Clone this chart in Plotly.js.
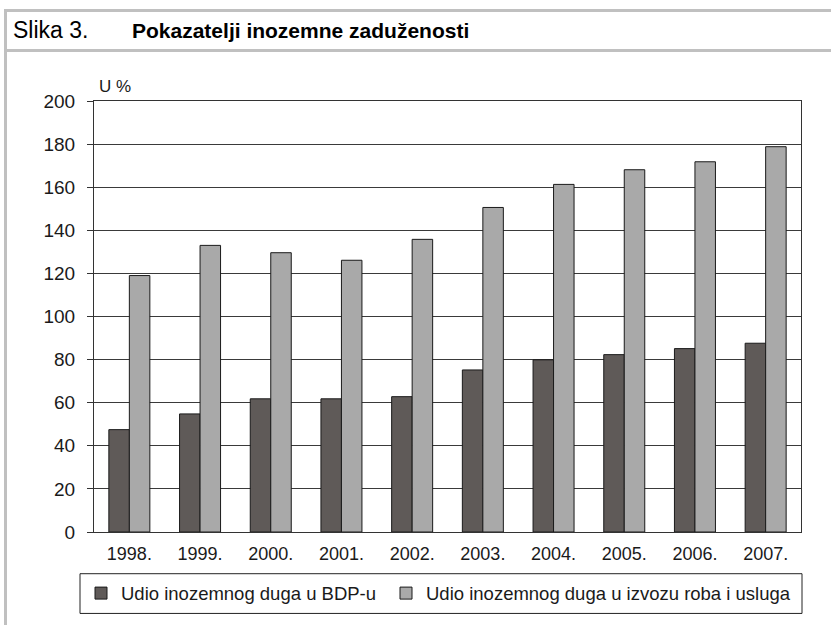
<!DOCTYPE html>
<html>
<head>
<meta charset="utf-8">
<script src="https://cdn.plot.ly/plotly-3.0.1.min.js"></script>
<style>
  html, body { margin: 0; padding: 0; background: #ffffff; }
  #wrap { position: relative; width: 831px; height: 625px; overflow: hidden; }
  #chart { position: absolute; left: 0; top: 0; width: 831px; height: 625px; }
  .fr { position: absolute; background: #c0c0c0; }
</style>
</head>
<body>
<div id="wrap">
  <div id="chart"></div>
  <div class="fr" style="left:4px; top:9px; width:827px; height:3px;"></div>
  <div class="fr" style="left:4px; top:49px; width:827px; height:3px;"></div>
  <div class="fr" style="left:4px; top:9px; width:3px; height:616px;"></div>
</div>
<script>
const years = ['1998.', '1999.', '2000.', '2001.', '2002.', '2003.', '2004.', '2005.', '2006.', '2007.'];
const debtToGDP = [47.5, 54.8, 61.8, 61.8, 62.8, 75.2, 79.9, 82.3, 85.1, 87.6];
const debtToExports = [119.0, 133.0, 129.6, 126.1, 135.8, 150.6, 161.3, 168.1, 171.8, 178.8];
const seriesNames = ['Udio inozemnog duga u BDP-u', 'Udio inozemnog duga u izvozu roba i usluga'];
const yTicks = [0, 20, 40, 60, 80, 100, 120, 140, 160, 180, 200];

const W = 831, H = 625;
const mL = 94, mR = 30, mT = 101, mB = 90;
const pw = W - mL - mR, ph = H - mT - mB;
const px = x => (x - mL) / pw;
const py = y => (H - mB - y) / ph;

const font = 'Liberation Sans, Arial, sans-serif';

const traces = [
  {
    type: 'bar', x: years, y: debtToGDP, name: seriesNames[0], legend: 'legend',
    marker: { color: '#5f5a58', line: { color: '#1a1a1a', width: 1 } }
  },
  {
    type: 'bar', x: years, y: debtToExports, name: seriesNames[1], legend: 'legend2',
    marker: { color: '#a9a9a9', line: { color: '#1a1a1a', width: 1 } }
  }
];

const legendBase = {
  orientation: 'h',
  yanchor: 'middle',
  y: py(597),
  xanchor: 'left',
  bgcolor: 'rgba(0,0,0,0)',
  borderwidth: 0,
  itemwidth: 30,
  font: { family: font, size: 18.5, color: '#1a1a1a' }
};

const layout = {
  width: W, height: H,
  margin: { l: mL, r: mR, t: mT, b: mB, pad: 0 },
  paper_bgcolor: 'rgba(0,0,0,0)',
  plot_bgcolor: '#ffffff',
  font: { family: font, size: 17, color: '#1a1a1a' },
  title: {
    text: 'Slika 3.',
    x: 13 / W, xanchor: 'left', xref: 'container',
    y: 1 - 30 / H, yanchor: 'middle', yref: 'container',
    font: { family: font, size: 23, color: '#000000' }
  },
  barmode: 'group',
  bargap: 0.42,
  bargroupgap: 0,
  showlegend: true,
  legend: Object.assign({}, legendBase, { x: px(81) }),
  legend2: Object.assign({}, legendBase, { x: px(386) }),
  xaxis: {
    type: 'category',
    showline: true, linecolor: '#333333', linewidth: 1, mirror: true,
    showgrid: false, ticks: '',
    tickfont: { family: font, size: 18, color: '#1a1a1a' },
    ticklabelstandoff: 5,
    fixedrange: true
  },
  yaxis: {
    range: [0, 200],
    tickvals: yTicks,
    ticktext: yTicks.map(String),
    showline: true, linecolor: '#333333', linewidth: 1, mirror: true,
    showgrid: true, gridcolor: '#3a3a3a', gridwidth: 1,
    zeroline: false,
    ticks: 'outside', ticklen: 6, tickcolor: '#333333', tickwidth: 1,
    tickfont: { family: font, size: 19, color: '#1a1a1a' },
    ticklabelstandoff: 8,
    fixedrange: true
  },
  shapes: [
    {
      type: 'rect', xref: 'paper', yref: 'paper',
      x0: px(80), x1: px(802), y0: py(577), y1: py(617),
      line: { color: '#222222', width: 1 }, fillcolor: 'rgba(0,0,0,0)'
    }
  ],
  annotations: [
    {
      text: '<b>Pokazatelji inozemne zaduženosti</b>', xref: 'paper', yref: 'paper',
      x: px(130), y: py(30), xanchor: 'left', yanchor: 'middle',
      showarrow: false, font: { family: font, size: 21, color: '#000000' }
    },
    {
      text: 'U %', xref: 'paper', yref: 'paper',
      x: px(97), y: py(86), xanchor: 'left', yanchor: 'middle',
      showarrow: false, font: { family: font, size: 17, color: '#1a1a1a' }
    }
  ]
};

Plotly.newPlot('chart', traces, layout, { staticPlot: true, displayModeBar: false });
</script>
</body>
</html>
